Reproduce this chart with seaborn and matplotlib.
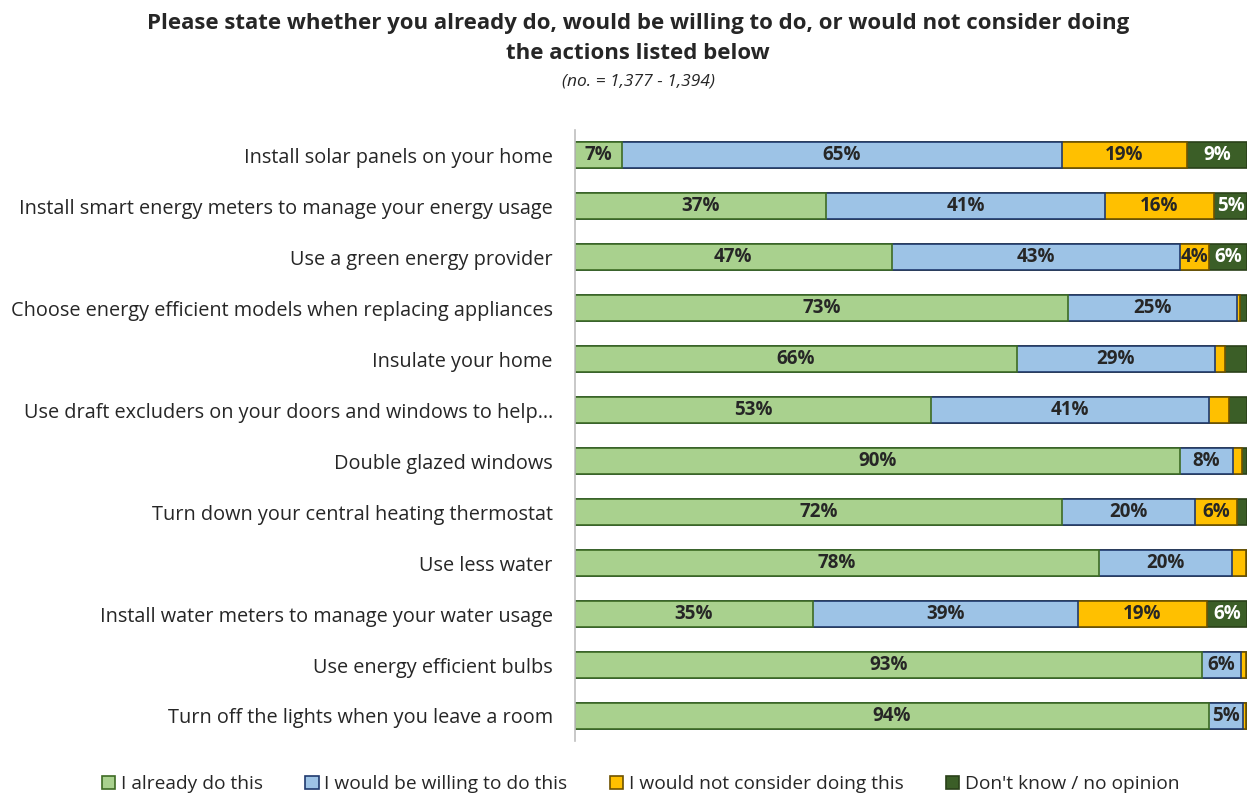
import numpy as np
import pandas as pd
import matplotlib
matplotlib.use("Agg")
import matplotlib.pyplot as plt
from matplotlib.patches import Patch
import seaborn as sns

actions = [
    "Install solar panels on your home",
    "Install smart energy meters to manage your energy usage",
    "Use a green energy provider",
    "Choose energy efficient models when replacing appliances",
    "Insulate your home",
    "Use draft excluders on your doors and windows to help\u2026",
    "Double glazed windows",
    "Turn down your central heating thermostat",
    "Use less water",
    "Install water meters to manage your water usage",
    "Use energy efficient bulbs",
    "Turn off the lights when you leave a room",
]
already_do = [7.0, 37.4, 47.1, 73.4, 65.8, 53.0, 90.0, 72.4, 78.0, 35.4, 93.3, 94.3]
willing = [65.4, 41.4, 43.0, 25.1, 29.4, 41.3, 7.9, 19.9, 19.8, 39.4, 5.8, 5.1]
not_consider = [18.7, 16.3, 4.3, 0.5, 1.6, 3.0, 1.4, 6.2, 2.1, 19.3, 0.7, 0.5]
dont_know = [8.9, 4.9, 5.6, 1.0, 3.2, 2.7, 0.7, 1.5, 0.1, 5.9, 0.2, 0.1]

series_names = ["I already do this", "I would be willing to do this",
                "I would not consider doing this", "Don't know / no opinion"]
fills = ["#A9D18E", "#9DC3E6", "#FFC000", "#3B5E27"]
edges = ["#3E6B24", "#1F3A6E", "#6E5200", "#2A4119"]
text_colors = ["#262626", "#262626", "#262626", "#FFFFFF"]

sns.set_theme(style="white")
plt.rcParams["font.family"] = ["Open Sans", "DejaVu Sans"]

values = np.array([already_do, willing, not_consider, dont_know])
cum = np.cumsum(values, axis=0)

df = pd.DataFrame({"action": actions})
for i in range(4):
    df[f"cum{i}"] = cum[i]

fig = plt.figure(figsize=(12.49, 7.96), dpi=100)
ax = fig.add_axes([575 / 1249, 0.0685, 672 / 1249, 0.7685])

# stacked bars: draw cumulative totals back to front
for i in range(3, -1, -1):
    sns.barplot(data=df, y="action", x=f"cum{i}", orient="h", ax=ax,
                color=fills[i], edgecolor=edges[i], linewidth=1.2,
                width=0.51, saturation=1)

# value labels
for i in range(4):
    for j in range(len(actions)):
        v = values[i, j]
        if v >= 3.5:
            cx = cum[i, j] - v / 2
            ax.text(cx, j, f"{v:.0f}%", ha="center", va="center",
                    fontsize=13.5, fontweight="bold", color=text_colors[i])

ax.set_xlim(0, 100)
ax.set_ylim(len(actions) - 0.5, -0.5)
ax.set_xlabel("")
ax.set_ylabel("")
ax.set_xticks([])
for s in ["top", "right", "bottom"]:
    ax.spines[s].set_visible(False)
ax.spines["left"].set_color("#BFBFBF")
ax.spines["left"].set_linewidth(1.2)
ax.tick_params(axis="y", length=0, pad=16, labelsize=14.3, labelcolor="#262626")

# title block
fig.text(0.511, 0.970, "Please state whether you already do, would be willing to do, or would not consider doing",
         ha="center", va="center", fontsize=16, fontweight="bold", color="#262626")
fig.text(0.511, 0.933, "the actions listed below",
         ha="center", va="center", fontsize=16, fontweight="bold", color="#262626")
fig.text(0.511, 0.898, "(no. = 1,377 - 1,394)",
         ha="center", va="center", fontsize=12.5, fontstyle="italic", color="#262626")

# legend
handles = [Patch(facecolor=fills[i], edgecolor=edges[i], linewidth=1.2) for i in range(4)]
fig.legend(handles, series_names, loc="center", bbox_to_anchor=(0.513, 0.015),
           ncol=4, frameon=False, fontsize=13.8, handlelength=0.7, handleheight=0.7,
           handletextpad=0.3, columnspacing=2.2, labelcolor="#262626")

fig.savefig("out.png", dpi=100)
